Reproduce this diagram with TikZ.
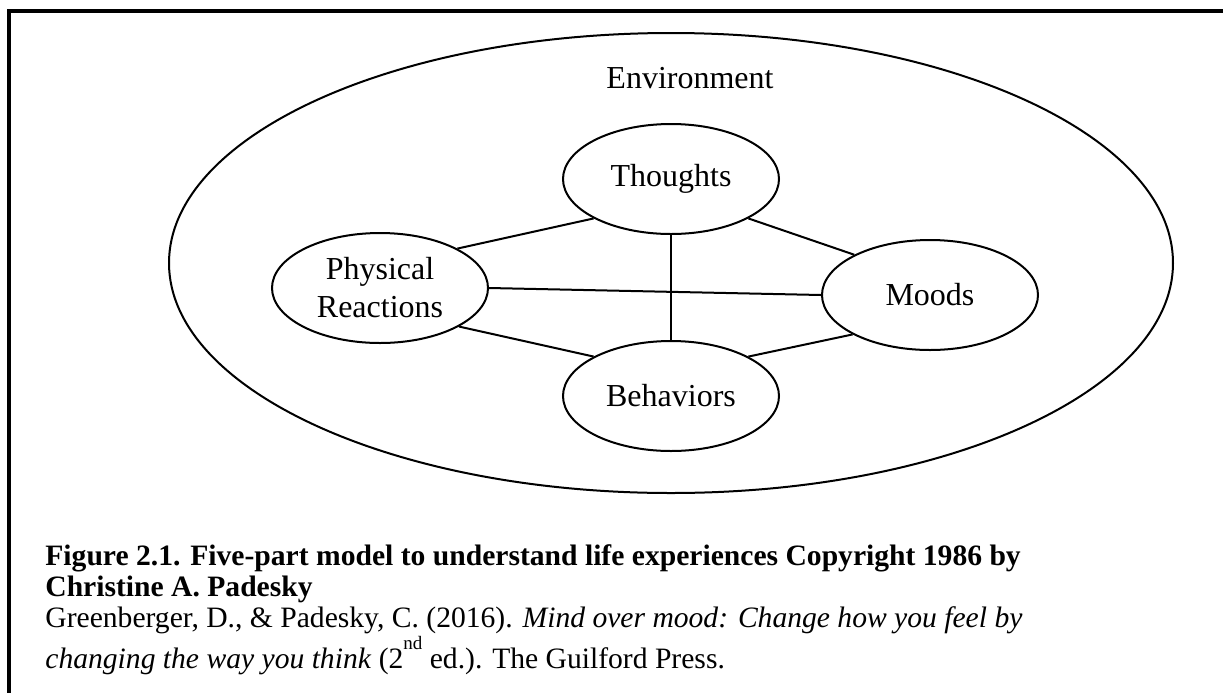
\documentclass[tikz,border=0pt]{standalone}
\usepackage{fontspec}
\setmainfont{Liberation Serif}
\usetikzlibrary{shapes.geometric}
\begin{document}
\begin{tikzpicture}[x=0.5pt,y=-0.5pt,
  part/.style={ellipse, draw, line width=1pt, minimum width=108pt, minimum height=55pt, inner sep=0pt, align=center, font=\fontsize{16}{19}\selectfont},
  outerring/.style={ellipse, draw, line width=1pt, minimum width=502pt, minimum height=230pt, inner sep=0pt},
  link/.style={line width=1pt},
  lbl/.style={font=\fontsize{16}{19}\selectfont, inner sep=0pt, anchor=base},
  captxt/.style={font=\fontsize{14.8}{17}\selectfont, inner sep=0pt, anchor=base west},
  frameline/.style={line width=1.75pt}]
\useasboundingbox[fill=white] (0,0) rectangle (1223,692);
\draw[frameline] (9,740) -- (9,11) -- (1260,11);
\node[outerring] (env) at (671,263) {};
\node[lbl] (envlbl) at (690,88) {Environment};
\node[part] (T) at (671,179) {Thoughts};
\node[part] (P) at (380,288) {Physical\\Reactions};
\node[part] (M) at (930,295) {Moods};
\node[part] (B) at (671,396) {Behaviors};
\draw[link] (P.27) -- (T.207);
\draw[link] (T.333) -- (M.152);
\draw[link] (P.east) -- (M.west);
\draw[link] (P.334) -- (B.153);
\draw[link] (B.27) -- (M.207);
\draw[link] (T.south) -- (B.north);
\node[captxt] (c1) at (45,565) {\bfseries Figure 2.1. Five-part model to understand life experiences Copyright 1986 by};
\node[captxt] (c2) at (45,596) {\bfseries Christine A. Padesky};
\node[captxt] (c3) at (45,627) {Greenberger, D., \& Padesky, C. (2016). \textit{Mind over mood: Change how you feel by}};
\node[captxt] (c4) at (45,668) {\textit{changing the way you think} (2\raisebox{0.62em}{\fontsize{9.5}{9.5}\selectfont nd} ed.). The Guilford Press.};
\end{tikzpicture}
\end{document}
